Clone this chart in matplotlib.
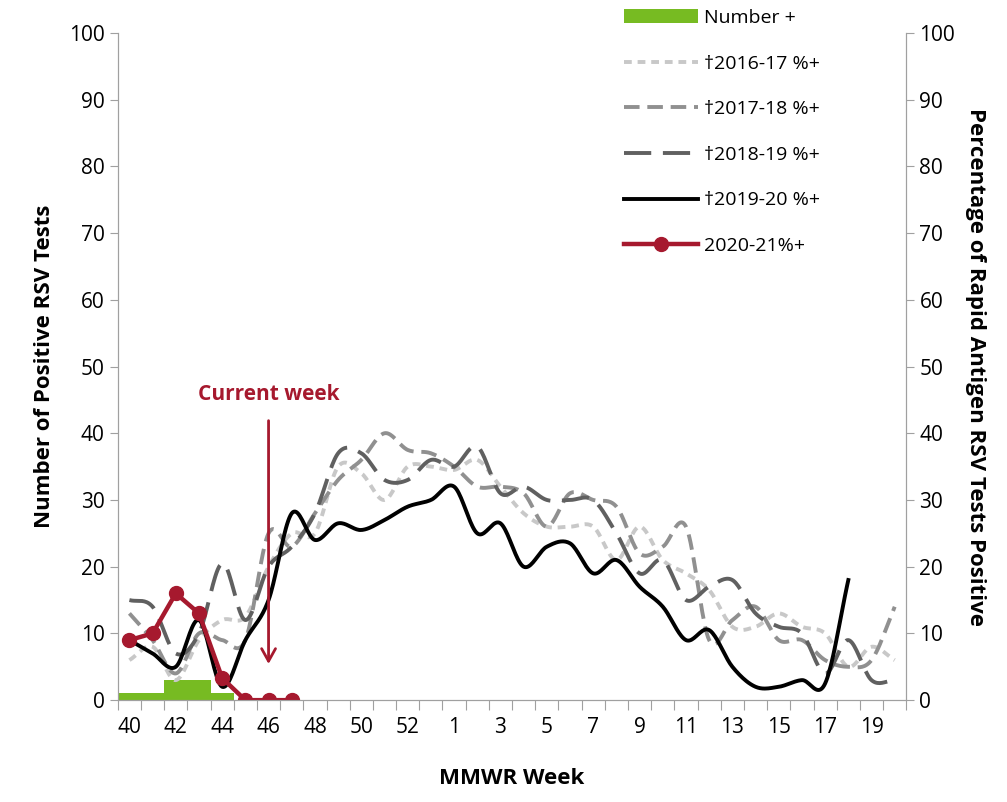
import numpy as np
import matplotlib
matplotlib.use("Agg")
import matplotlib.pyplot as plt
plt.rcParams['font.family'] = ['Open Sans', 'DejaVu Sans']

weeks = list(range(40, 54)) + list(range(1, 21))
tick_labels = [str(w) for w in weeks]
s1617 = [6,8,3,9,12,12.5,20,25,25,35,34,30,35,35,34.5,36,32,28,26,26,26,21,26,21,19,16.5,11,11,13,11,10,5,8,6]
s1718 = [13,9,4,10,9,9,25,23,28,33,36,40,37.5,37,35,32,32,31,26,31,30,29,22,23,26,9,12,14,9,9,6,5,6,14]
s1819 = [15,14,7,10,20.5,12,20,23,28,37,37,33,33,36,35,38,31,32,30,30,30,25,19,21,15,17,18,13,11,10,4,9,3,3]
s1920 = [9,7,5,12,2,9,15,28,24,26.5,25.5,27,29,30,32,25,26.5,20,23,23.5,19,21,17,14,9,10.5,5,2,2,3,2.5,18]
s2021 = [9,10,16,13,3.3,0,0,0]
number_pos = [1,1,3,3,1]

def smooth(y, n=20):
    y = np.asarray(y, float); x = np.arange(len(y))
    p = np.concatenate([[2*y[0]-y[1]], y, [2*y[-1]-y[-2]]])
    xs, ys = [], []
    for i in range(len(y)-1):
        t = np.linspace(0, 1, n, endpoint=False)
        p0, p1, p2, p3 = p[i], p[i+1], p[i+2], p[i+3]
        ys.append(0.5*((2*p1)+(-p0+p2)*t+(2*p0-5*p1+4*p2-p3)*t**2+(-p0+3*p1-3*p2+p3)*t**3))
        xs.append(x[i]+t)
    xs.append([x[-1]]); ys.append([y[-1]])
    return np.concatenate(xs), np.concatenate(ys)

fig = plt.figure(figsize=(10.07, 8.02), dpi=100)
ax = fig.add_axes([0.117, 0.127, 0.783, 0.832])
ax2 = ax.twinx()

ax.bar(np.arange(len(number_pos)), number_pos, width=1.0, color='#77bb22', label='Number +', zorder=1)
for data, col, ds, lab in [(s1617, '#c8c8c8', (0, (2, 1.5)), '\u20202016-17 %+'),
                           (s1718, '#909090', (0, (4, 2)), '\u20202017-18 %+'),
                           (s1819, '#606060', (0, (7, 3)), '\u20202018-19 %+'),
                           (s1920, '#000000', '-', '\u20202019-20 %+')]:
    xs, ys = smooth(data)
    ax2.plot(xs, ys, color=col, lw=2.8, linestyle=ds, label=lab)
ax2.plot(np.arange(len(s2021)), s2021, color='#a6192e', lw=3.2, marker='o', ms=10, label='2020-21%+')

for a in (ax, ax2):
    a.set_ylim(0, 100)
    a.set_yticks(range(0, 101, 10))
    a.tick_params(labelsize=15, colors='black', length=6, color='#a0a0a0')
    for sp in a.spines.values():
        sp.set_color('#a0a0a0')
    a.spines['top'].set_visible(False)
ax.set_xlim(-0.5, len(weeks)-0.5)
ax.set_xticks(np.arange(len(weeks)+1)-0.5, minor=False)
ax.set_xticklabels([])
ax.set_xticks(np.arange(0, len(weeks), 2), minor=True)
ax.set_xticklabels(tick_labels[::2], minor=True)
ax.tick_params(axis='x', which='minor', length=0, labelsize=15, pad=12)
ax.tick_params(axis='x', which='major', length=7, color='#a0a0a0')

ax.set_ylabel('Number of Positive RSV Tests', fontsize=16, fontweight='bold', labelpad=10)
ax2.set_ylabel('Percentage of Rapid Antigen RSV Tests Positive', fontsize=16, fontweight='bold', rotation=270, labelpad=22)
ax.set_xlabel('MMWR Week', fontsize=16, fontweight='bold', labelpad=22)

ax2.annotate('', xy=(6, 5), xytext=(6, 42.3),
             arrowprops=dict(arrowstyle='->,head_length=0.9,head_width=0.5', color='#a6192e', lw=2))
ax2.text(6, 44.3, 'Current week', color='#a6192e', fontsize=15, fontweight='bold', ha='center', va='bottom')

h1, l1 = ax.get_legend_handles_labels()
h2, l2 = ax2.get_legend_handles_labels()
ax2.legend(h1+h2, l1+l2, loc='upper left', bbox_to_anchor=(0.62, 1.062), frameon=False,
           fontsize=14, handlelength=3.8, labelspacing=1.42, handletextpad=0.3)
fig.savefig('out.png', dpi=100)
